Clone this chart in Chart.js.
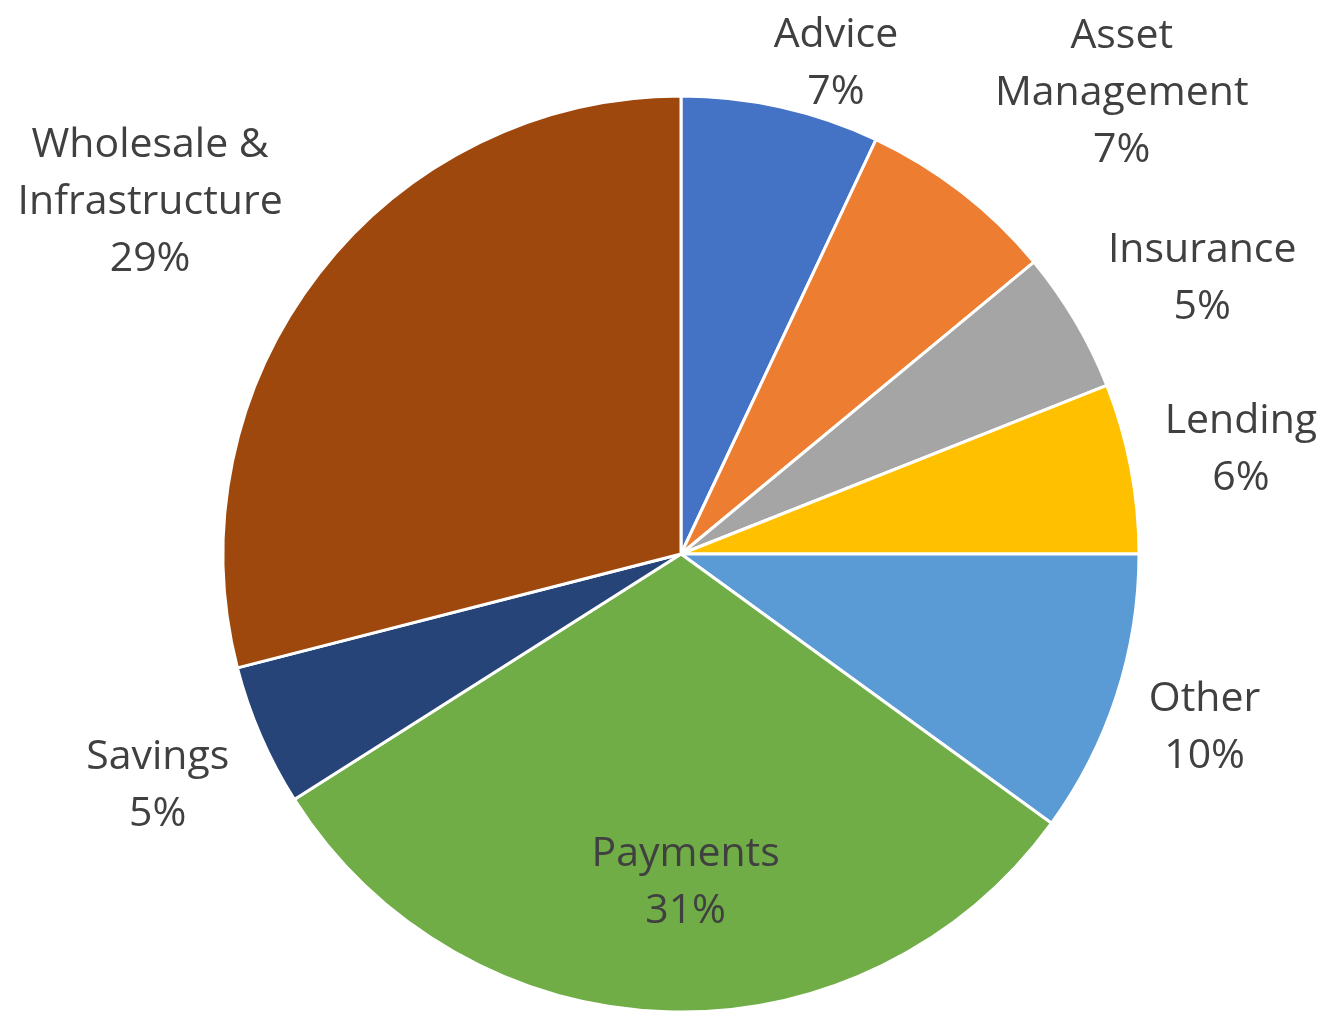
<!DOCTYPE html>
<html lang="en">
<head>
    <meta charset="UTF-8">
    <meta name="viewport" content="width=device-width, initial-scale=1.0">
    <title>Segments</title>
    <style>
        html, body { margin: 0; padding: 0; background: #ffffff; }
        .chart-box { width: 1324px; height: 1011px; }
    </style>
</head>
<body>
    <div class="chart-box">
        <canvas id="myChart"></canvas>
    </div>

<script src="https://cdn.jsdelivr.net/npm/chart.js"></script>

<script>

    // segments, clockwise from 12 o'clock (label lines per segment)
    const segments = [
        ['Advice'],
        ['Asset', 'Management'],
        ['Insurance'],
        ['Lending'],
        ['Other'],
        ['Payments'],
        ['Savings'],
        ['Wholesale &', 'Infrastructure']
    ];
    const shares = [7, 7, 5, 6, 10, 31, 5, 29];
    const colors = ['#4472C4', '#ED7D31', '#A5A5A5', '#FFC000', '#5B9BD5', '#70AD47', '#264478', '#9E480E'];

    // where each label sits, relative to the middle of its slice's outer edge
    const labelDx = [55, 160, 127, 110, 88, 19, -103, -169];
    const labelDy = [-46, -102, -45, -21, 29, -132, 47, -74];

    const fontSize = 41;
    const lineGap = 57;

    const total = shares.reduce(function (a, b) { return a + b; }, 0);

    // data labels: name + percentage, drawn after the slices
    const sliceLabels = {
        id: 'sliceLabels',
        afterDatasetsDraw(chart) {
            const ctx = chart.ctx;
            const arcs = chart.getDatasetMeta(0).data;
            ctx.save();
            ctx.font = fontSize + 'px "Open Sans", "Noto Sans", sans-serif';
            ctx.fillStyle = '#404040';
            ctx.textAlign = 'center';
            ctx.textBaseline = 'alphabetic';
            arcs.forEach(function (arc, i) {
                const p = arc.getProps(['x', 'y', 'startAngle', 'endAngle', 'outerRadius'], true);
                const mid = (p.startAngle + p.endAngle) / 2;
                const cx = p.x + Math.cos(mid) * p.outerRadius + labelDx[i];
                const cy = p.y + Math.sin(mid) * p.outerRadius + labelDy[i];
                const lines = segments[i].concat(Math.round(shares[i] / total * 100) + '%');
                const first = cy - (lines.length - 1) * lineGap / 2;
                lines.forEach(function (txt, k) {
                    // shift so the cap height is centred on the line position
                    ctx.fillText(txt, cx, first + k * lineGap + fontSize * 0.357);
                });
            });
            ctx.restore();
        }
    };

    const ctx = document.getElementById('myChart');

    new Chart(ctx, {
        type: 'pie',
        data: {
            labels: segments,
            datasets: [{
                data: shares,
                backgroundColor: colors,
                borderColor: '#ffffff',
                borderWidth: 3,
                clip: false
            }]
        },
        options: {
            responsive: true,
            maintainAspectRatio: false,
            animation: false,
            radius: 458,
            layout: {
                padding: { top: 97, bottom: 0, left: 38, right: 0 }
            },
            plugins: {
                legend: { display: false },
                tooltip: { enabled: false }
            }
        },
        plugins: [sliceLabels]
    });

</script>
</body>
</html>
